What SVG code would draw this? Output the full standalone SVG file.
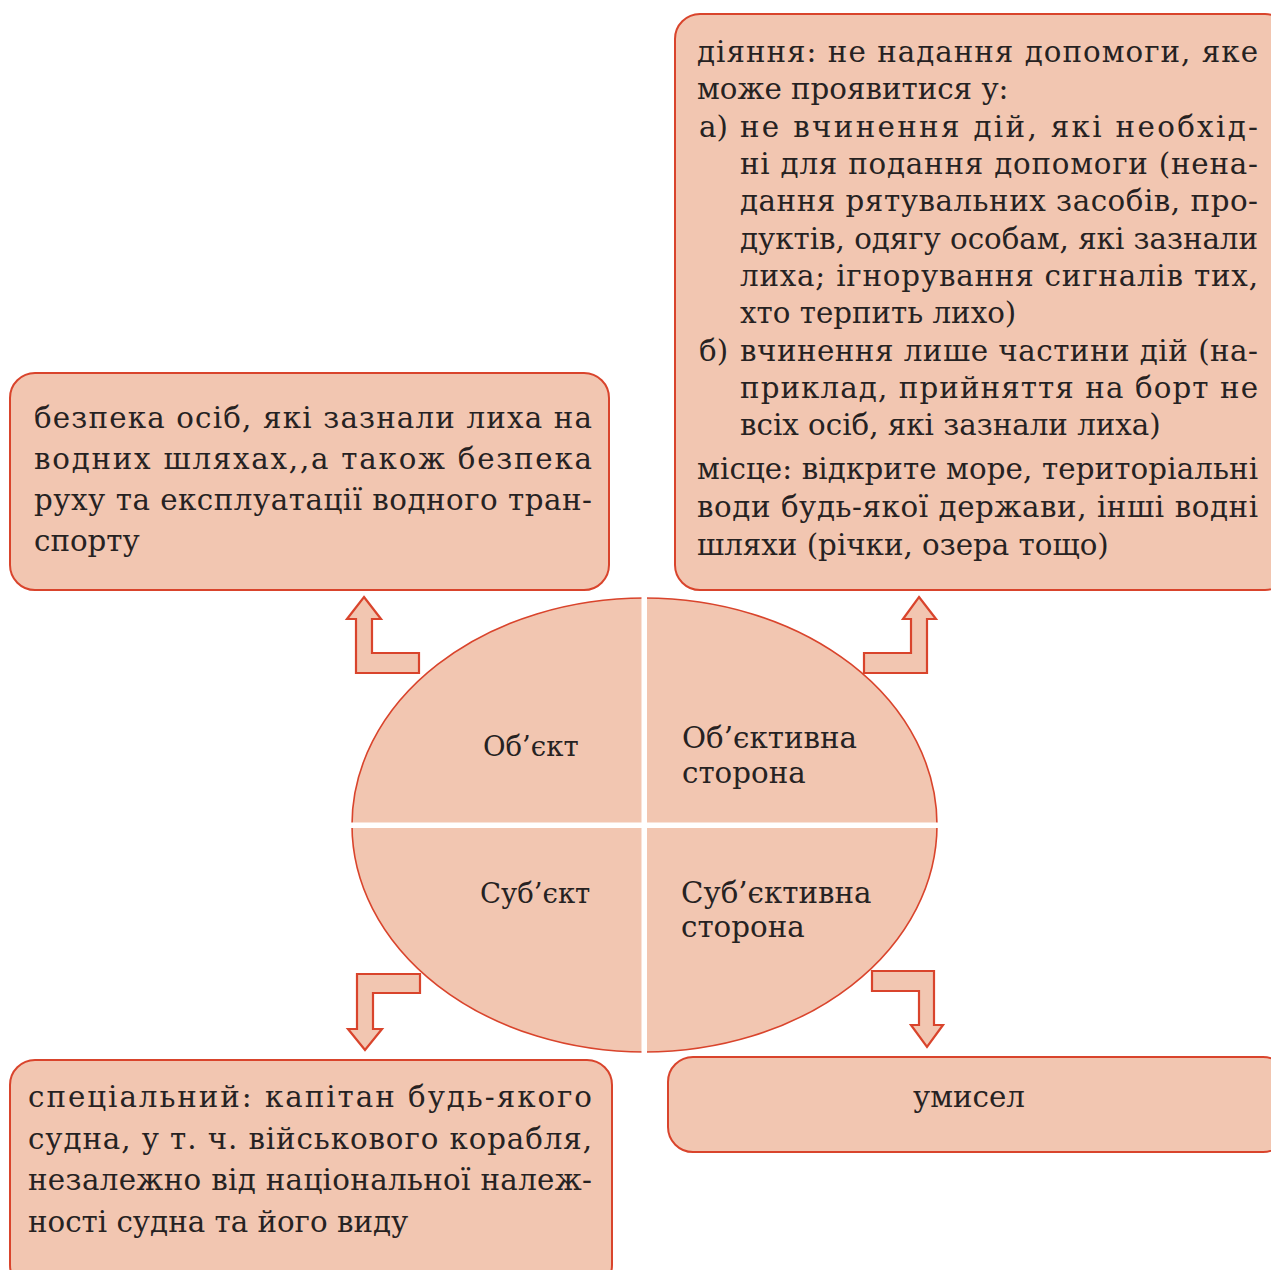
<svg xmlns="http://www.w3.org/2000/svg" width="1271" height="1270" viewBox="0 0 1271 1270">
<style>
.box{fill:#f2c6b1;stroke:#d9442c;stroke-width:2}
.arr{fill:#f2c6b1;stroke:#d9442c;stroke-width:2.2;stroke-linejoin:miter}
.t{font-family:"DejaVu Serif","Liberation Serif",serif;font-size:29.3px;fill:#262222}
.e{font-family:"DejaVu Serif","Liberation Serif",serif;font-size:27.5px;fill:#262222}
.er{font-family:"DejaVu Serif","Liberation Serif",serif;font-size:29.3px;fill:#262222}
</style>
<rect width="1271" height="1270" fill="#ffffff"/>
<g id="center">
<ellipse cx="644.5" cy="825" rx="292.5" ry="227" fill="#f2c6b1" stroke="#d9442c" stroke-width="1.6"/>
<rect x="641.5" y="590" width="5.5" height="470" fill="#ffffff"/>
<rect x="345" y="822.5" width="600" height="5.5" fill="#ffffff"/>
<text class="e" x="483" y="756">Об’єкт</text>
<text class="er" x="682" y="748">Об’єктивна</text>
<text class="er" x="682" y="783">сторона</text>
<text class="e" x="480" y="903">Суб’єкт</text>
<text class="er" x="681" y="903">Суб’єктивна</text>
<text class="er" x="681" y="937">сторона</text>
</g>
<g id="connectors">
<polygon class="arr" points="364,597 381,619 372,619 372,653 419,653 419,673 356,673 356,619 347,619"/>
<polygon class="arr" points="919,597 936,619 927,619 927,673 864,673 864,653 911,653 911,619 903,619"/>
<polygon class="arr" points="420,974 420,993 373,993 373,1029 382,1029 365,1050 348,1029 357,1029 357,974"/>
<polygon class="arr" points="872,971 934,971 934,1025 943,1025 927,1047 911,1025 919,1025 919,991 872,991"/>
</g>
<g id="object-box">
<rect class="box" x="10" y="373" width="599" height="217" rx="25"/>
<text class="t" x="34" y="428" textLength="558" lengthAdjust="spacing">безпека осіб, які зазнали лиха на</text>
<text class="t" x="34" y="469" textLength="558" lengthAdjust="spacing">водних шляхах,,а також безпека</text>
<text class="t" x="34" y="510" textLength="558" lengthAdjust="spacing">руху та експлуатації водного тран-</text>
<text class="t" x="34" y="551">спорту</text>
</g>
<g id="objective-box">
<rect class="box" x="675" y="14" width="615" height="576" rx="25"/>
<text class="t" x="697" y="62" textLength="561" lengthAdjust="spacing">діяння: не надання допомоги, яке</text>
<text class="t" x="697" y="99">може проявитися у:</text>
<text class="t" x="699" y="137">а)</text>
<text class="t" x="740" y="137" textLength="518" lengthAdjust="spacing">не вчинення дій, які необхід-</text>
<text class="t" x="740" y="174" textLength="518" lengthAdjust="spacing">ні для подання допомоги (нена-</text>
<text class="t" x="740" y="211" textLength="518" lengthAdjust="spacing">дання рятувальних засобів, про-</text>
<text class="t" x="740" y="249" textLength="518" lengthAdjust="spacing">дуктів, одягу особам, які зазнали</text>
<text class="t" x="740" y="286" textLength="518" lengthAdjust="spacing">лиха; ігнорування сигналів тих,</text>
<text class="t" x="740" y="323">хто терпить лихо)</text>
<text class="t" x="699" y="361">б)</text>
<text class="t" x="740" y="361" textLength="518" lengthAdjust="spacing">вчинення лише частини дій (на-</text>
<text class="t" x="740" y="398" textLength="518" lengthAdjust="spacing">приклад, прийняття на борт не</text>
<text class="t" x="740" y="435">всіх осіб, які зазнали лиха)</text>
<text class="t" x="697" y="479" textLength="561" lengthAdjust="spacing">місце: відкрите море, територіальні</text>
<text class="t" x="697" y="517" textLength="561" lengthAdjust="spacing">води будь-якої держави, інші водні</text>
<text class="t" x="697" y="555">шляхи (річки, озера тощо)</text>
</g>
<g id="subject-box">
<rect class="box" x="10" y="1060" width="602" height="230" rx="25"/>
<text class="t" x="28" y="1107" textLength="564" lengthAdjust="spacing">спеціальний: капітан будь-якого</text>
<text class="t" x="28" y="1149" textLength="564" lengthAdjust="spacing">судна, у т. ч. військового корабля,</text>
<text class="t" x="28" y="1190" textLength="564" lengthAdjust="spacing">незалежно від національної належ-</text>
<text class="t" x="28" y="1232">ності судна та його виду</text>
</g>
<g id="subjective-box">
<rect class="box" x="668" y="1057" width="620" height="95" rx="25"/>
<text class="t" x="969" y="1107" text-anchor="middle">умисел</text>
</g>
</svg>
